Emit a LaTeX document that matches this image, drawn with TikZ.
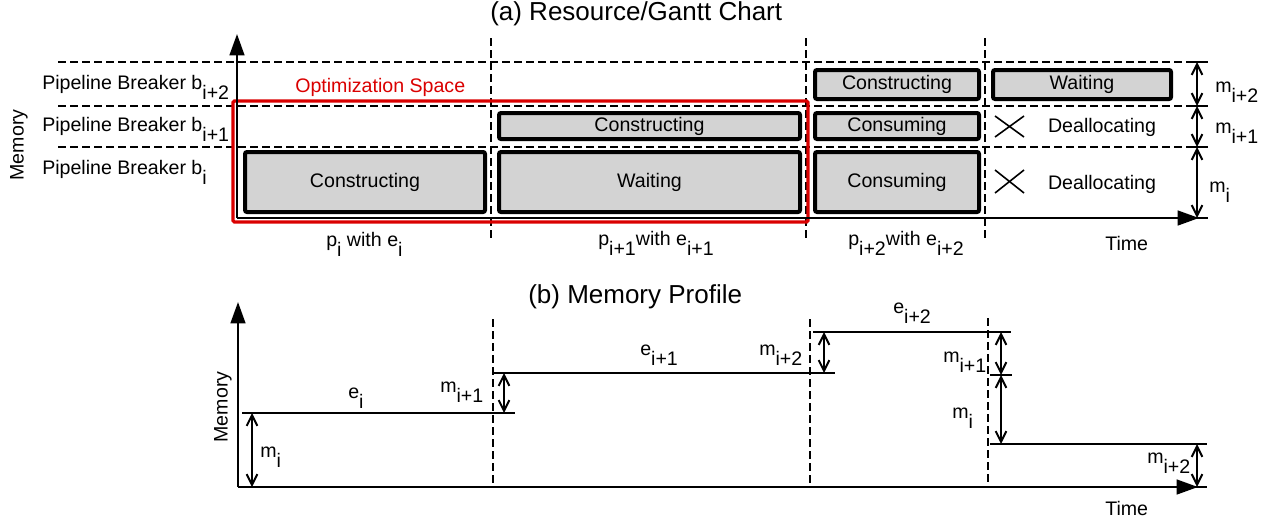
\documentclass[tikz,border=0pt]{standalone}
\usepackage{fontspec}
\setmainfont{Liberation Sans}
\usetikzlibrary{arrows.meta,fit}
\definecolor{boxgray}{RGB}{211,211,211}
\definecolor{optred}{RGB}{218,0,0}
\newcommand\lo[1]{\raisebox{-7.5pt}{#1}}
\begin{document}
\begin{tikzpicture}[x=0.75pt,y=-0.75pt,
  font=\fontsize{14.7}{17}\selectfont,
  phase/.style={draw=black, line width=3pt, fill=boxgray, rounded corners=1.5pt, inner sep=0pt},
  gline/.style={line width=1.3pt, dash pattern=on 6pt off 3pt},
  axisline/.style={line width=1.8pt, -{Triangle[length=16pt,width=11pt]}},
  dimline/.style={line width=1.5pt, {Straight Barb[length=8pt,width=8pt]}-{Straight Barb[length=8pt,width=8pt]}},
  tickline/.style={line width=1.5pt},
  stepline/.style={line width=1.7pt},
  lab/.style={anchor=base west, inner sep=0pt},
  titlefont/.style={font=\fontsize{19.5}{22}\selectfont},
]
\useasboundingbox (0,0) rectangle (1276,525);

% ---------------- (a) Resource/Gantt Chart ----------------
\node[lab, titlefont] (ta) at (490,20) {(a) Resource/Gantt Chart};

% grid lines
\draw[gline] (58,62) -- (1187,62);
\draw[gline] (58,106) -- (1187,106);
\draw[gline] (58,147) -- (1187,147);
\draw[gline] (491,38) -- (491,238);
\draw[gline] (806,38) -- (806,238);
\draw[gline] (985,38) -- (985,240);

% boxes
\node[phase, fit={(245,152)(485,212)}] (b1) {};
\node (b1t) at (b1.center) {Constructing};
\node[phase, fit={(499,152)(800,212)}] (b2) {};
\node (b2t) at (b2.center) {Waiting};
\node[phase, fit={(815,152)(979,212)}] (b3) {};
\node (b3t) at (b3.center) {Consuming};
\node[phase, fit={(499,113)(800,139)}] (b4) {};
\node (b4t) at (b4.center) {Constructing};
\node[phase, fit={(815,113)(979,139)}] (b5) {};
\node (b5t) at (b5.center) {Consuming};
\node[phase, fit={(815,70)(979,99)}] (b6) {};
\node (b6t) at (b6.center) {Constructing};
\node[phase, fit={(993,70)(1171,99)}] (b7) {};
\node (b7t) at (b7.center) {Waiting};

% deallocating
\draw[line width=1.2pt] (995,116) -- (1024,137) (995,137) -- (1024,116);
\draw[line width=1.2pt] (995,170) -- (1024,193) (995,193) -- (1024,170);
\node (d1) at (1102,127) {Deallocating};
\node (d2) at (1102,184) {Deallocating};

% optimization space
\draw[optred, line width=2.4pt, rounded corners=1pt] (233,101) rectangle (808,222);
\node[lab, text=optred] (opt) at (295,92) {Optimization Space};

% axes
\coordinate (ao) at (237,218);
\coordinate (ay) at (237,34);
\coordinate (ax) at (1199,218);
\draw[axisline] (ao) -- (ay);
\draw[axisline] (ao) -- (ax);
\draw[tickline] (1187,218) -- (1208,218);

% dimension arrows on the right
\coordinate (r0) at (1197,62);
\coordinate (r1) at (1197,106);
\coordinate (r2) at (1197,147);
\coordinate (r3) at (1197,218);
\draw[tickline] (1187,62) -- (1208,62) (1187,106) -- (1208,106) (1187,147) -- (1208,147);
\draw[dimline] (r0) -- (r1);
\draw[dimline] (r1) -- (r2);
\draw[dimline] (r2) -- (r3);
\node[lab] (mr2) at (1215,92) {m\lo{i+2}};
\node[lab] (mr1) at (1215,133) {m\lo{i+1}};
\node[lab] (mr0) at (1209,192) {m\lo{i}};

% left labels
\node[lab] (pb2) at (42,89) {Pipeline Breaker b\lo{i+2}};
\node[lab] (pb1) at (42,131) {Pipeline Breaker b\lo{i+1}};
\node[lab] (pb0) at (42,174) {Pipeline Breaker b\lo{i}};
\node[rotate=90] (memA) at (19,145) {Memory};

% bottom labels
\node[lab] (ph0) at (326,246) {p\lo{i} with e\lo{i}};
\node[lab] (ph1) at (598,245) {p\lo{i+1}with e\lo{i+1}};
\node[lab] (ph2) at (848,245) {p\lo{i+2}with e\lo{i+2}};
\node[lab] (timeA) at (1105,250) {Time};

% ---------------- (b) Memory Profile ----------------
\node[lab, titlefont] (tb) at (528,303) {(b) Memory Profile};

\coordinate (bo) at (238,487);
\coordinate (by) at (238,302);
\coordinate (bx) at (1198,487);
\draw[axisline] (bo) -- (by);
\draw[axisline] (bo) -- (bx);
\draw[tickline] (1187,487) -- (1207,487);

\draw[gline] (493,319) -- (493,487);
\draw[gline] (810,319) -- (810,487);
\draw[gline] (988,318) -- (988,487);

% steps
\draw[stepline] (242,413) -- (515,413);
\draw[stepline] (493,373) -- (835,373);
\draw[stepline] (813,332) -- (1011,332);
\draw[stepline] (990,375) -- (1012,375);
\draw[stepline] (990,444) -- (1207,444);

% dimension arrows
\coordinate (p1) at (252,413);
\coordinate (p0) at (252,487);
\draw[dimline] (p1) -- (p0);
\coordinate (q1) at (504,373);
\coordinate (q0) at (504,413);
\draw[dimline] (q1) -- (q0);
\coordinate (s1) at (824,332);
\coordinate (s0) at (824,373);
\draw[dimline] (s1) -- (s0);
\coordinate (u2) at (1001,332);
\coordinate (u1) at (1001,375);
\coordinate (u0) at (1001,444);
\draw[dimline] (u2) -- (u1);
\draw[dimline] (u1) -- (u0);
\coordinate (v1) at (1197,444);
\coordinate (v0) at (1197,487);
\draw[dimline] (v1) -- (v0);

% labels
\node[lab] (le0) at (348,398) {e\lo{i}};
\node[lab] (lm0) at (260,457) {m\lo{i}};
\node[lab] (lm1) at (440,392) {m\lo{i+1}};
\node[lab] (le1) at (640,355) {e\lo{i+1}};
\node[lab] (lm2) at (759,355) {m\lo{i+2}};
\node[lab] (le2) at (893,313) {e\lo{i+2}};
\node[lab] (lm1b) at (943,362) {m\lo{i+1}};
\node[lab] (lm0b) at (952,418) {m\lo{i}};
\node[lab] (lm2b) at (1147,463) {m\lo{i+2}};
\node[rotate=90] (memB) at (223,407) {Memory};
\node[lab] (timeB) at (1105,515) {Time};
\end{tikzpicture}
\end{document}
